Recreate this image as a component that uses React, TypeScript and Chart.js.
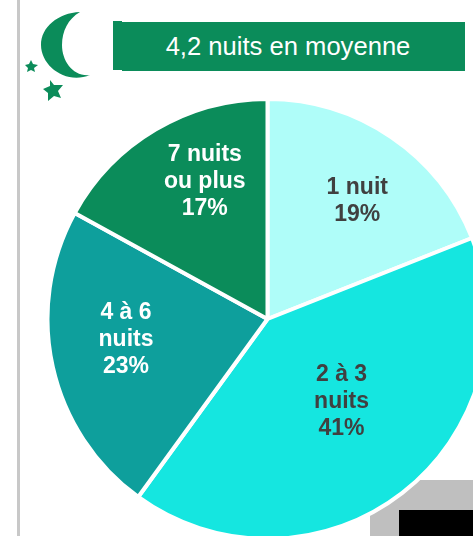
import React, { useEffect, useRef } from "react";
import { Chart, registerables } from "chart.js";

Chart.register(...registerables);

const categories = ["1 nuit", "2 à 3 nuits", "4 à 6 nuits", "7 nuits ou plus"];
const shares = [19, 41, 23, 17];
const sliceColors = ["#AFFDF9", "#15E6E0", "#0E9F9C", "#0B8C5A"];
const labelLines = [
  ["1 nuit", "19%"],
  ["2 à 3", "nuits", "41%"],
  ["4 à 6", "nuits", "23%"],
  ["7 nuits", "ou plus", "17%"],
];
const labelColors = ["#404040", "#404040", "#FFFFFF", "#FFFFFF"];
const labelRadius = [0.675, 0.505, 0.65, 0.685];
const labelAngleShift = [3, -4, 4.3, 6];
const title = "4,2 nuits en moyenne";

const sliceLabels = {
  id: "sliceLabels",
  afterDatasetsDraw(chart: any) {
    const { ctx } = chart;
    const arcs = chart.getDatasetMeta(0).data;
    ctx.save();
    ctx.font = 'bold 23px "Liberation Sans", Arial, sans-serif';
    ctx.textAlign = "center";
    ctx.textBaseline = "middle";
    arcs.forEach((arc: any, i: number) => {
      const { x, y, startAngle, endAngle, outerRadius } = arc.getProps(
        ["x", "y", "startAngle", "endAngle", "outerRadius"],
        true
      );
      const a = (startAngle + endAngle) / 2 + (labelAngleShift[i] * Math.PI) / 180;
      const r = outerRadius * labelRadius[i];
      const cx = x + Math.cos(a) * r;
      const cy = y + Math.sin(a) * r;
      const lines = labelLines[i];
      ctx.fillStyle = labelColors[i];
      lines.forEach((t: string, j: number) => {
        ctx.fillText(t, cx, cy + (j - (lines.length - 1) / 2) * 27);
      });
    });
    ctx.restore();
  },
};

export default function App() {
  const ref = useRef<HTMLCanvasElement>(null);
  useEffect(() => {
    document.body.style.margin = "0";
    document.body.style.overflow = "hidden";
    const chart = new Chart(ref.current!, {
      type: "pie",
      data: {
        labels: categories,
        datasets: [
          {
            data: shares,
            backgroundColor: sliceColors,
            borderColor: "#FFFFFF",
            borderWidth: 4,
            borderAlign: "center",
          },
        ],
      },
      options: {
        animation: false,
        responsive: false,
        layout: { padding: 0 },
        plugins: { legend: { display: false }, tooltip: { enabled: false } },
      },
      plugins: [sliceLabels],
    } as any);
    return () => chart.destroy();
  }, []);

  return (
    <div style={{ position: "relative", width: 473, height: 536, overflow: "hidden", background: "#fff" }}>
      <div style={{ position: "absolute", left: 17, top: 0, width: 3, height: 536, background: "#C8C8C8" }} />
      <svg width={110} height={110} style={{ position: "absolute", left: 0, top: 0 }}>
        <path
          d="M80 12 C58 13 41 27 41 45 C41 66 66 85 90 75 C73 77 62 61 62 45 C62 31 68 19 80 12 Z"
          fill="#0B8C5A"
        />
        <path
          d="M31 60 L33 64 L38 65 L34 68 L35 72 L31 70 L27 72 L28 68 L25 65 L29 64 Z"
          fill="#0B8C5A"
        />
        <path
          d="M50 80 L54 85 L63 85 L58 91 L61 98 L54 96 L48 101 L48 93 L43 89 L50 86 Z"
          fill="#0B8C5A"
        />
      </svg>
      <div style={{ position: "absolute", left: 113, top: 21, width: 9, height: 49, background: "#0B8C5A" }} />
      <div
        style={{
          position: "absolute",
          left: 122,
          top: 22,
          width: 343,
          height: 49,
          background: "#0B8C5A",
        }}
      />
      <div
        style={{
          position: "absolute",
          left: 112,
          top: 22,
          width: 352,
          height: 49,
          lineHeight: "49px",
          textAlign: "center",
          color: "#fff",
          fontFamily: '"Liberation Sans", Arial, sans-serif',
          fontSize: 25.6,
        }}
      >
        {title}
      </div>
      <div style={{ position: "absolute", left: 370, top: 480, width: 103, height: 56, background: "#BFBFBF" }} />
      <div style={{ position: "absolute", left: 399, top: 510, width: 74, height: 26, background: "#000" }} />
      <canvas
        ref={ref}
        width={445}
        height={444}
        style={{ position: "absolute", left: 45, top: 97, width: 445, height: 444 }}
      />
    </div>
  );
}
